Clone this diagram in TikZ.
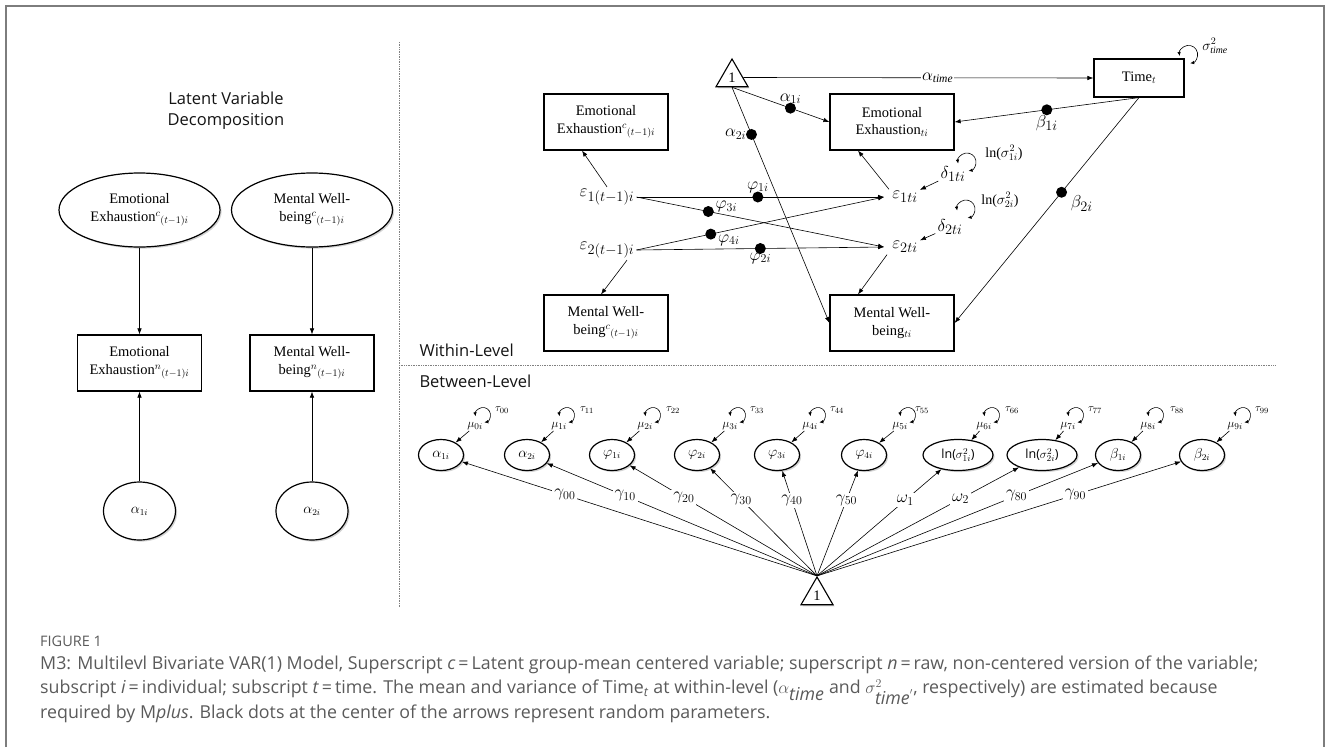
\documentclass[tikz,border=0pt]{standalone}
\usepackage{fontspec}
\setmainfont{Liberation Serif}
\setsansfont{Open Sans}
\usetikzlibrary{arrows.meta, positioning, shapes.geometric, shadows, calc}

\definecolor{framegray}{RGB}{125,125,125}
\definecolor{capgray}{RGB}{90,90,90}
\definecolor{sectgray}{RGB}{20,20,20}

\newcommand{\EEc}{Emotional\\Exhaustion$^{c}{}_{(t-1)i}$}
\newcommand{\MWc}{Mental Well-\\being$^{c}{}_{(t-1)i}$}
\newcommand{\EEn}{Emotional\\Exhaustion$^{n}{}_{(t-1)i}$}
\newcommand{\MWn}{Mental Well-\\being$^{n}{}_{(t-1)i}$}
\newcommand{\timesub}{\mathit{time}}
\newcommand{\varloop}[4]{% anchor, xshift, yshift, radius
  \draw[varloop] ([xshift=#2,yshift=#3]#1) ++(190:#4) arc[start angle=190, end angle=-80, radius=#4];}

\begin{document}
\begin{tikzpicture}[
  x=1pt, y=-1pt,
  font=\fontsize{14.5}{17.5}\selectfont,
  box/.style={draw, line width=1.2pt, fill=white, minimum width=124pt, minimum height=56pt, align=center, inner sep=1pt},
  lat/.style={draw, ellipse, line width=1.2pt, fill=white, align=center, inner sep=1pt,
    drop shadow={shadow xshift=1.6pt, shadow yshift=-1.6pt, opacity=0.35}},
  bell/.style={lat, minimum width=45pt, minimum height=31pt, font=\fontsize{13.5}{13.5}\selectfont},
  one/.style={draw, regular polygon, regular polygon sides=3, minimum size=37pt, inner sep=0pt, line width=1.1pt, fill=white,
    drop shadow={shadow xshift=1.6pt, shadow yshift=-1.6pt, opacity=0.35}},
  arrow/.style={-{Latex[length=6pt, width=4.5pt]}, line width=0.6pt},
  varloop/.style={{Latex[length=4pt, width=3.5pt]}-{Latex[length=4pt, width=3.5pt]}, line width=0.6pt},
  dot/.style={circle, fill=black, inner sep=0pt, minimum size=11pt},
  mlab/.style={font=\fontsize{16.5}{16.5}\selectfont, inner sep=1pt},
  blab/.style={font=\fontsize{19}{19}\selectfont, inner sep=1pt},
  big/.style={font=\fontsize{19}{19}\selectfont, inner sep=2pt},
  lnlab/.style={font=\fontsize{14}{14}\selectfont, inner sep=1pt},
  mulab/.style={font=\fontsize{12.5}{12.5}\selectfont, inner sep=1pt},
  taulab/.style={font=\fontsize{11}{11}\selectfont, inner sep=1pt},
  glab/.style={font=\fontsize{16.5}{16.5}\selectfont, fill=white, inner sep=2pt},
  sect/.style={font=\sffamily\fontsize{16.5}{21}\selectfont, text=sectgray},
  divider/.style={densely dotted, line width=0.7pt, gray},
  captext/.style={font=\sffamily\fontsize{17.8}{24}\selectfont, text=capgray, align=left, inner sep=0pt}
]

% --- Frame and level dividers ---
\useasboundingbox (0,0) rectangle (1329,747);
\draw[framegray, line width=2pt] (6,747) -- (6,6) -- (1324,6) -- (1324,747);
\draw[divider] (399,42) -- (399,607);
\draw[divider] (399,365) -- (1275,365);

% --- Latent variable decomposition ---
\node[sect, align=center] (ldtitle) at (226,111) {Latent Variable\\Decomposition};
\node[lat, minimum width=161pt, minimum height=74pt] (eecl) at (139.5,210) {\EEc};
\node[lat, minimum width=161pt, minimum height=74pt] (mwcl) at (312,210) {\MWc};
\node[box] (eenl) at (139.5,363) {\EEn};
\node[box] (mwnl) at (312,363) {\MWn};
\node[lat, minimum width=72pt, minimum height=58pt, font=\fontsize{13.5}{13.5}\selectfont] (a1l) at (139.5,511) {$\alpha_{1i}$};
\node[lat, minimum width=72pt, minimum height=58pt, font=\fontsize{13.5}{13.5}\selectfont] (a2l) at (312,511) {$\alpha_{2i}$};

\draw[arrow] (eecl) -- (eenl);
\draw[arrow] (mwcl) -- (mwnl);
\draw[arrow] (a1l) -- (eenl);
\draw[arrow] (a2l) -- (mwnl);

% --- Within-level ---
\node[sect, anchor=west] (within) at (416,350) {Within-Level};
\node[one] (one1) at (732,77.5) {1};
\node[box, minimum width=90pt, minimum height=38pt] (time) at (1139,78) {Time$_t$};
\node[box] (eep) at (606,122) {\EEc};
\node[box] (mwp) at (606,323) {\MWc};
\node[box] (eet) at (892,122) {Emotional\\Exhaustion$_{ti}$};
\node[box] (mwt) at (892,323) {Mental Well-\\being$_{ti}$};

\node[big] (e1p) at (607,197) {$\varepsilon_{1(t-1)i}$};
\node[big] (e2p) at (607,250) {$\varepsilon_{2(t-1)i}$};
\node[big] (e1c) at (905,197) {$\varepsilon_{1ti}$};
\node[big] (e2c) at (905,247) {$\varepsilon_{2ti}$};
\node[big] (d1) at (953,174) {$\delta_{1ti}$};
\node[big] (d2) at (950,227) {$\delta_{2ti}$};
\node[lnlab] (ln1) at (1004,153) {ln($\sigma^2_{1i}$)};
\node[lnlab] (ln2) at (1000,200) {ln($\sigma^2_{2i}$)};
\node[lnlab] (vtime) at (1215,46) {$\sigma^2_{\timesub}$};

\draw[arrow] (one1.east) -- node[mlab, fill=white, pos=0.555] {$\alpha_{\timesub}$} (time.west);
\draw[arrow] (one1.south) -- node[dot, pos=0.6] {} node[mlab, pos=0.6, above=3pt] {$\alpha_{1i}$} (eet.west);
\draw[arrow] (one1.south) -- node[dot, pos=0.2] {} node[mlab, pos=0.2, left=4pt] {$\alpha_{2i}$} (mwt.west);
\draw[arrow] (time.south) -- node[dot, pos=0.5] {} node[blab, pos=0.5, below=4pt] {$\beta_{1i}$} (eet.east);
\draw[arrow] (time.south) -- node[dot, pos=0.42] {} node[blab, pos=0.42, anchor=west, xshift=8pt, yshift=-11pt] {$\beta_{2i}$} (mwt.east);

\draw[arrow] (e1p.north) -- ([xshift=-24pt]eep.south);
\draw[arrow] ([xshift=20pt]e2p.south) -- ([xshift=-5pt]mwp.north);
\draw[arrow] ([xshift=-16pt]e1c.north) -- ([xshift=-34pt]eet.south);
\draw[arrow] ([xshift=-18pt]e2c.south) -- ([xshift=-34pt]mwt.north);

\draw[arrow] (e1p.east) -- node[dot, pos=0.49] {} node[mlab, pos=0.49, above=3pt] {$\varphi_{1i}$} ([xshift=-6pt]e1c.west);
\draw[arrow] (e2p.east) -- node[dot, pos=0.5] {} node[mlab, pos=0.5, below=3pt] {$\varphi_{2i}$} ([xshift=-6pt]e2c.west);
\draw[arrow] (e1p.east) -- node[dot, pos=0.29] {} node[mlab, pos=0.29, anchor=west, xshift=6pt, yshift=5pt] {$\varphi_{3i}$} ([xshift=-6pt]e2c.west);
\draw[arrow] (e2p.east) -- node[dot, pos=0.3] {} node[mlab, pos=0.3, anchor=west, xshift=6pt, yshift=-6pt] {$\varphi_{4i}$} ([xshift=-6pt]e1c.west);

\draw[arrow] (d1) -- (e1c);
\draw[arrow] (d2) -- (e2c);
\varloop{d1.center}{14pt}{12pt}{9pt}
\varloop{d2.center}{16pt}{18pt}{9pt}
\varloop{time.north east}{4pt}{4pt}{9pt}

% --- Between-level ---
\node[sect, anchor=west] (between) at (416,381) {Between-Level};
\node[one] (one2) at (817,595.5) {1};

\node[bell] (ba1) at (441,455) {$\alpha_{1i}$};
\node[bell] (ba2) at (527,455) {$\alpha_{2i}$};
\node[bell] (bp1) at (612,455) {$\varphi_{1i}$};
\node[bell] (bp2) at (697,455) {$\varphi_{2i}$};
\node[bell] (bp3) at (777,455) {$\varphi_{3i}$};
\node[bell] (bp4) at (864,455) {$\varphi_{4i}$};
\node[bell, minimum width=70pt, font=\sffamily\fontsize{12.5}{12.5}\selectfont] (bs1) at (958,455) {ln($\sigma^2_{1i}$)};
\node[bell, minimum width=70pt, font=\sffamily\fontsize{12.5}{12.5}\selectfont] (bs2) at (1042,455) {ln($\sigma^2_{2i}$)};
\node[bell] (bb1) at (1118,455) {$\beta_{1i}$};
\node[bell] (bb2) at (1202,455) {$\beta_{2i}$};

\node[mulab] (m0) at (475,426) {$\mu_{0i}$};
\node[mulab] (m1) at (559,426) {$\mu_{1i}$};
\node[mulab] (m2) at (645,426) {$\mu_{2i}$};
\node[mulab] (m3) at (730,426) {$\mu_{3i}$};
\node[mulab] (m4) at (810,426) {$\mu_{4i}$};
\node[mulab] (m5) at (900,426) {$\mu_{5i}$};
\node[mulab] (m6) at (984,426) {$\mu_{6i}$};
\node[mulab] (m7) at (1068,426) {$\mu_{7i}$};
\node[mulab] (m8) at (1148,426) {$\mu_{8i}$};
\node[mulab] (m9) at (1235,426) {$\mu_{9i}$};

\node[taulab] (t0) at (502,410) {$\tau_{00}$};
\node[taulab] (t1) at (587,410) {$\tau_{11}$};
\node[taulab] (t2) at (673,410) {$\tau_{22}$};
\node[taulab] (t3) at (757,410) {$\tau_{33}$};
\node[taulab] (t4) at (837,410) {$\tau_{44}$};
\node[taulab] (t5) at (922,410) {$\tau_{55}$};
\node[taulab] (t6) at (1012,410) {$\tau_{66}$};
\node[taulab] (t7) at (1095,410) {$\tau_{77}$};
\node[taulab] (t8) at (1177,410) {$\tau_{88}$};
\node[taulab] (t9) at (1262,410) {$\tau_{99}$};

\varloop{m0.center}{8pt}{11pt}{7.5pt}
\varloop{m1.center}{8pt}{11pt}{7.5pt}
\varloop{m2.center}{8pt}{11pt}{7.5pt}
\varloop{m3.center}{8pt}{11pt}{7.5pt}
\varloop{m4.center}{8pt}{11pt}{7.5pt}
\varloop{m5.center}{8pt}{11pt}{7.5pt}
\varloop{m6.center}{8pt}{11pt}{7.5pt}
\varloop{m7.center}{8pt}{11pt}{7.5pt}
\varloop{m8.center}{8pt}{11pt}{7.5pt}
\varloop{m9.center}{8pt}{11pt}{7.5pt}

\draw[arrow] (m0) -- (ba1);
\draw[arrow] (m1) -- (ba2);
\draw[arrow] (m2) -- (bp1);
\draw[arrow] (m3) -- (bp2);
\draw[arrow] (m4) -- (bp3);
\draw[arrow] (m5) -- (bp4);
\draw[arrow] (m6) -- (bs1);
\draw[arrow] (m7) -- (bs2);
\draw[arrow] (m8) -- (bb1);
\draw[arrow] (m9) -- (bb2);

\draw[arrow] (one2.north) -- node[glab, pos=0.71] {$\gamma_{00}$} (ba1);
\draw[arrow] (one2.north) -- node[glab, pos=0.71] {$\gamma_{10}$} (ba2);
\draw[arrow] (one2.north) -- node[glab, pos=0.71] {$\gamma_{20}$} (bp1);
\draw[arrow] (one2.north) -- node[glab, pos=0.71] {$\gamma_{30}$} (bp2);
\draw[arrow] (one2.north) -- node[glab, pos=0.72] {$\gamma_{40}$} (bp3);
\draw[arrow] (one2.north) -- node[glab, pos=0.72] {$\gamma_{50}$} (bp4);
\draw[arrow] (one2.north) -- node[glab, pos=0.71] {$\omega_{1}$} (bs1);
\draw[arrow] (one2.north) -- node[glab, pos=0.71] {$\omega_{2}$} (bs2);
\draw[arrow] (one2.north) -- node[glab, pos=0.71] {$\gamma_{80}$} (bb1);
\draw[arrow] (one2.north) -- node[glab, pos=0.71] {$\gamma_{90}$} (bb2);

% --- Caption ---
\node[captext, anchor=west, font=\sffamily\fontsize{14.5}{18}\selectfont] (figlabel) at (40,641) {FIGURE 1};
\node[captext, anchor=north west] (caption) at (40,656) {M3: Multilevl Bivariate VAR(1) Model, Superscript \textit{c}\,=\,Latent group-mean centered variable; superscript \textit{n}\,=\,raw, non-centered version of the variable;\\
subscript \textit{i}\,=\,individual; subscript \textit{t}\,=\,time. The mean and variance of Time\textsubscript{\textit{t}} at within-level ($\alpha_{\textit{time}}$ and $\sigma^{2}_{\textit{time}'}$, respectively) are estimated because\\
required by M\textit{plus}. Black dots at the center of the arrows represent random parameters.};

\end{tikzpicture}
\end{document}
